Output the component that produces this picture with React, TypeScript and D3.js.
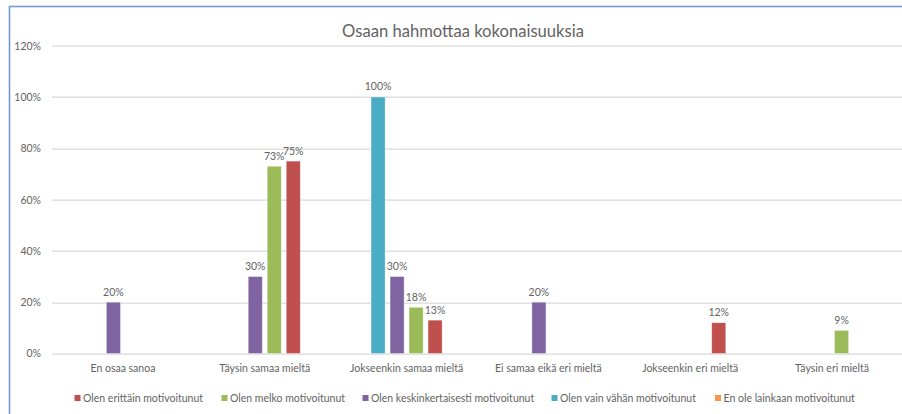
import React, { useRef, useEffect } from "react";
import * as d3 from "d3";

const categories = [
  "En osaa sanoa",
  "Täysin samaa mieltä",
  "Jokseenkin samaa mieltä",
  "Ei samaa eikä eri mieltä",
  "Jokseenkin eri mieltä",
  "Täysin eri mieltä",
];

const seriesNames = [
  "Olen erittäin motivoitunut",
  "Olen melko motivoitunut",
  "Olen keskinkertaisesti motivoitunut",
  "Olen vain vähän motivoitunut",
  "En ole lainkaan motivoitunut",
];

const seriesColors = ["#c0504d", "#9bbb59", "#8064a2", "#4bacc6", "#f79646"];

// values in %, null = no bar
const erittain = [null, 75, 13, null, 12, null];
const melko = [null, 73, 18, null, null, 9];
const keskinkertaisesti = [20, 30, 30, 20, null, null];
const vainVahan = [null, null, 100, null, null, null];
const eiLainkaan = [null, null, null, null, null, null];

const yTicks = [0, 20, 40, 60, 80, 100, 120];

const seriesValues: (number | null)[][] = [
  erittain,
  melko,
  keskinkertaisesti,
  vainVahan,
  eiLainkaan,
];

const FONT = "Lato, 'Open Sans', sans-serif";
const TEXT = "#636363";

export default function App() {
  const ref = useRef<SVGSVGElement | null>(null);
  const width = 902;
  const height = 414;

  useEffect(() => {
    const svg = d3.select(ref.current);
    svg.selectAll("*").remove();

    const margin = { top: 45.7, right: -1, bottom: 60.5, left: 52 };
    const w = width - margin.left - margin.right;
    const h = height - margin.top - margin.bottom;

    // chart frame
    svg
      .append("rect")
      .attr("x", 9.5)
      .attr("y", 6.5)
      .attr("width", width + 10)
      .attr("height", height + 10)
      .attr("fill", "#fff")
      .attr("stroke", "#6f9cd6")
      .attr("stroke-width", 1.6);

    svg
      .append("text")
      .attr("x", width / 2 + 12)
      .attr("y", 37)
      .attr("text-anchor", "middle")
      .attr("fill", TEXT)
      .style("font-family", FONT)
      .style("font-size", "16.6px")
      .text("Osaan hahmottaa kokonaisuuksia");

    const g = svg
      .append("g")
      .attr("transform", `translate(${margin.left},${margin.top})`);

    const x0 = d3.scaleBand<string>().domain(categories).range([0, w]);
    const y = d3.scaleLinear().domain([0, 120]).range([h, 0]);

    // slots: only series with data, drawn in reverse legend order
    const slotSeries = seriesNames
      .map((name, i) => ({ name, i }))
      .filter((s) => seriesValues[s.i].some((v) => v !== null))
      .reverse();
    const x1 = d3
      .scaleBand<string>()
      .domain(slotSeries.map((s) => s.name))
      .range([-38, 38])
      .paddingInner(0.26)
      .paddingOuter(0.13);

    // gridlines
    g.append("g")
      .selectAll("line")
      .data(yTicks)
      .enter()
      .append("line")
      .attr("x1", 0)
      .attr("x2", w)
      .attr("y1", (d) => Math.round(y(d)) + 0.5)
      .attr("y2", (d) => Math.round(y(d)) + 0.5)
      .attr("stroke", "#d9d9d9")
      .attr("stroke-width", 1.3);

    // y labels
    g.append("g")
      .selectAll("text")
      .data(yTicks)
      .enter()
      .append("text")
      .attr("x", -11)
      .attr("y", (d) => y(d) + 4)
      .attr("text-anchor", "end")
      .attr("fill", TEXT)
      .style("font-family", FONT)
      .style("font-size", "10.5px")
      .text((d) => `${d}%`);

    // category labels
    g.append("g")
      .selectAll("text")
      .data(categories)
      .enter()
      .append("text")
      .attr("x", (d) => (x0(d) ?? 0) + x0.bandwidth() / 2)
      .attr("y", h + 18.5)
      .attr("text-anchor", "middle")
      .attr("fill", TEXT)
      .style("font-family", FONT)
      .style("font-size", "10.5px")
      .text((d) => d);

    // bars + labels
    const bars: { cat: string; name: string; color: string; v: number }[] = [];
    slotSeries.forEach((s) => {
      seriesValues[s.i].forEach((v, ci) => {
        if (v !== null)
          bars.push({ cat: categories[ci], name: s.name, color: seriesColors[s.i], v });
      });
    });
    const bx = (d: { cat: string; name: string }) =>
      (x0(d.cat) ?? 0) + x0.bandwidth() / 2 + (x1(d.name) ?? 0);

    g.append("g")
      .selectAll("rect")
      .data(bars)
      .enter()
      .append("rect")
      .attr("x", bx)
      .attr("y", (d) => y(d.v))
      .attr("width", x1.bandwidth())
      .attr("height", (d) => h - y(d.v))
      .attr("fill", (d) => d.color)
      .attr("stroke", "#ffffff")
      .attr("stroke-opacity", 0.5)
      .attr("stroke-width", 0.7);

    g.append("g")
      .selectAll("text")
      .data(bars)
      .enter()
      .append("text")
      .attr("x", (d) => bx(d) + x1.bandwidth() / 2)
      .attr("y", (d) => y(d.v) - 6.5)
      .attr("text-anchor", "middle")
      .attr("fill", TEXT)
      .style("font-family", FONT)
      .style("font-size", "10.5px")
      .text((d) => `${d.v}%`);

    // legend
    const legendX = [74.5, 221.5, 362.5, 551.5, 715];
    const lg = svg.append("g").attr("transform", "translate(0,398)");
    seriesNames.forEach((name, i) => {
      lg.append("rect")
        .attr("x", legendX[i])
        .attr("y", -3)
        .attr("width", 6)
        .attr("height", 6)
        .attr("fill", seriesColors[i]);
      lg.append("text")
        .attr("x", legendX[i] + 8.5)
        .attr("y", 3.8)
        .attr("fill", TEXT)
        .style("font-family", FONT)
        .style("font-size", "10.5px")
        .text(name);
    });
  }, []);

  return (
    <svg
      ref={ref}
      width={width}
      height={height}
      style={{ position: "absolute", left: 0, top: 0, display: "block", background: "#fff" }}
    />
  );
}
